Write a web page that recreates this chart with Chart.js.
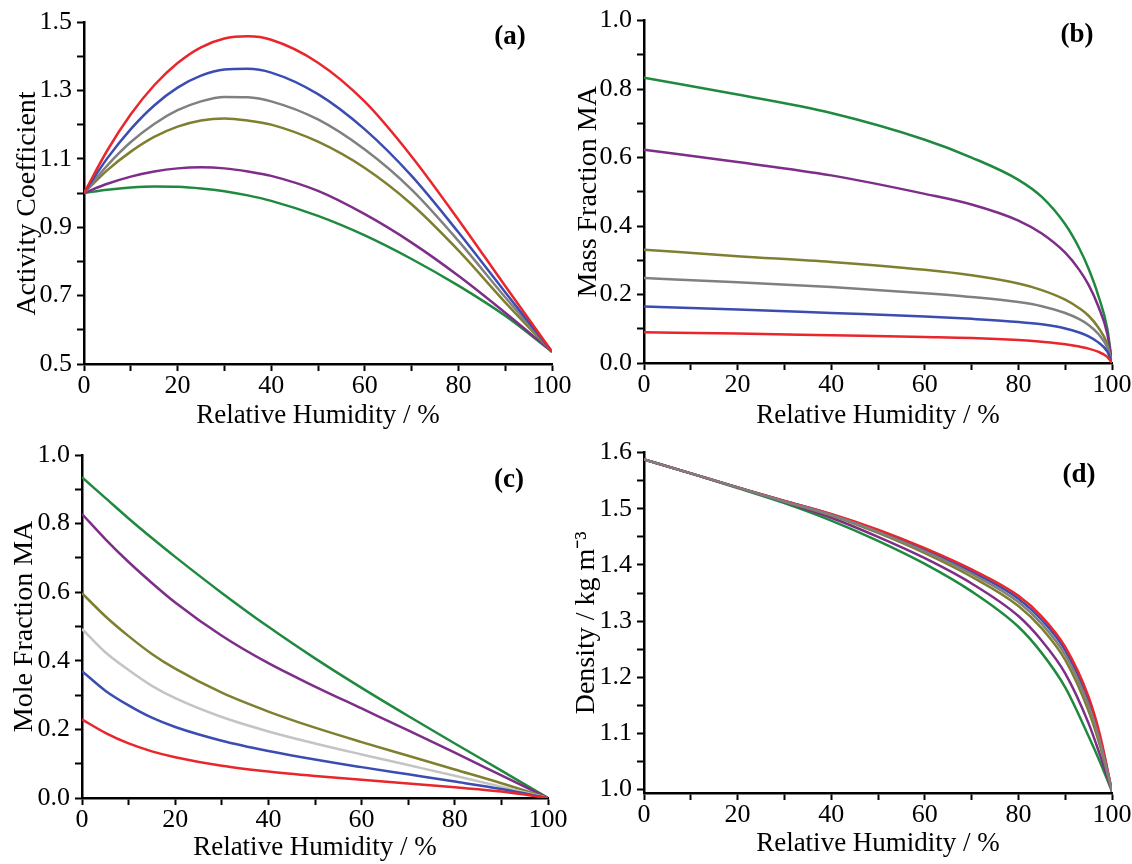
<!DOCTYPE html>
<html>
<head>
<meta charset="utf-8">
<script src="https://cdn.jsdelivr.net/npm/chart.js@4.4.1/dist/chart.umd.min.js"></script>
<style>
  html, body { margin: 0; padding: 0; background: #fff; overflow: hidden; }
  #wrap { position: relative; width: 1132px; height: 864px; overflow: hidden; background: #fff; }
  #wrap canvas { position: absolute; }
  .tag { position: absolute; font: bold 27px 'Liberation Serif', 'Times New Roman', serif; line-height: 27px; transform: translate(-50%, -50%); color: #000; }
</style>
</head>
<body>
<div id="wrap">
  <canvas id="panelA" width="600" height="432" style="left:0;top:0"></canvas>
  <canvas id="panelC" width="600" height="432" style="left:0;top:432px"></canvas>
  <canvas id="panelB" width="600" height="432" style="left:560px;top:0"></canvas>
  <canvas id="panelD" width="600" height="432" style="left:560px;top:432px"></canvas>
  <div class="tag" style="left:510px;top:35px">(a)</div>
  <div class="tag" style="left:1077px;top:33px">(b)</div>
  <div class="tag" style="left:509px;top:478px">(c)</div>
  <div class="tag" style="left:1079px;top:473px">(d)</div>
</div>
<script>
// --- shared x axis ---
const xTickVals = [0, 10, 20, 30, 40, 50, 60, 70, 80, 90, 100];
const xTickLabels = [0, 20, 40, 60, 80, 100];

// --- (a) activity coefficient ---
const actX = [0, 5, 10, 15, 20, 25, 30, 35, 40, 50, 60, 70, 80, 90, 100];
const actRed    = [1.0, 1.125, 1.23, 1.315, 1.38, 1.426, 1.452, 1.458, 1.448, 1.381, 1.267, 1.107, 0.922, 0.728, 0.536];
const actBlue   = [1.0, 1.102, 1.187, 1.256, 1.308, 1.343, 1.361, 1.363, 1.352, 1.289, 1.186, 1.05, 0.885, 0.71, 0.536];
const actGray   = [1.0, 1.081, 1.149, 1.202, 1.242, 1.268, 1.281, 1.28, 1.268, 1.215, 1.127, 1.01, 0.86, 0.695, 0.536];
const actOlive  = [1.0, 1.067, 1.121, 1.164, 1.194, 1.212, 1.218, 1.212, 1.2, 1.15, 1.073, 0.967, 0.832, 0.68, 0.536];
const actPurple = [1.0, 1.027, 1.048, 1.063, 1.072, 1.075, 1.072, 1.063, 1.05, 1.006, 0.938, 0.855, 0.758, 0.65, 0.536];
const actGreen  = [1.0, 1.0095, 1.016, 1.019, 1.018, 1.013, 1.005, 0.993, 0.977, 0.933, 0.876, 0.807, 0.729, 0.641, 0.536];
const actTicks  = [0.5, 0.6, 0.7, 0.8, 0.9, 1.0, 1.1, 1.2, 1.3, 1.4, 1.5];
const actLabels = [0.5, 0.7, 0.9, 1.1, 1.3, 1.5];

// --- (b) mass fraction ---
const massX = [0, 20, 40, 60, 70, 80, 85, 90, 93, 95, 97, 99, 100];
const massRed    = [0.09, 0.086, 0.081, 0.076, 0.073, 0.067, 0.062, 0.055, 0.048, 0.042, 0.033, 0.018, 0];
const massBlue   = [0.165, 0.156, 0.146, 0.136, 0.129, 0.12, 0.113, 0.101, 0.089, 0.078, 0.061, 0.033, 0];
const massGray   = [0.248, 0.236, 0.222, 0.204, 0.193, 0.178, 0.166, 0.146, 0.128, 0.111, 0.086, 0.045, 0];
const massOlive  = [0.331, 0.312, 0.295, 0.272, 0.256, 0.232, 0.213, 0.185, 0.16, 0.138, 0.105, 0.055, 0];
const massPurple = [0.623, 0.587, 0.548, 0.494, 0.463, 0.416, 0.378, 0.322, 0.272, 0.228, 0.168, 0.085, 0];
const massGreen  = [0.833, 0.784, 0.73, 0.652, 0.6, 0.535, 0.485, 0.405, 0.335, 0.275, 0.2, 0.1, 0];
const fracTicks  = [0, 0.1, 0.2, 0.3, 0.4, 0.5, 0.6, 0.7, 0.8, 0.9, 1.0];
const fracLabels = [0, 0.2, 0.4, 0.6, 0.8, 1.0];

// --- (c) mole fraction ---
const moleX = [0, 5, 10, 15, 20, 30, 40, 50, 60, 70, 80, 90, 100];
const moleRed    = [0.229, 0.19, 0.159, 0.136, 0.119, 0.094, 0.077, 0.064, 0.053, 0.042, 0.031, 0.019, 0];
const moleBlue   = [0.37, 0.313, 0.27, 0.234, 0.207, 0.167, 0.137, 0.112, 0.09, 0.069, 0.048, 0.026, 0];
const moleGray   = [0.493, 0.425, 0.373, 0.327, 0.291, 0.236, 0.194, 0.159, 0.127, 0.096, 0.065, 0.033, 0];
const moleOlive  = [0.597, 0.53, 0.472, 0.42, 0.377, 0.307, 0.252, 0.205, 0.163, 0.123, 0.083, 0.043, 0];
const molePurple = [0.828, 0.755, 0.688, 0.627, 0.57, 0.473, 0.393, 0.325, 0.261, 0.197, 0.132, 0.066, 0];
const moleGreen  = [0.935, 0.875, 0.815, 0.758, 0.703, 0.598, 0.499, 0.407, 0.321, 0.239, 0.159, 0.08, 0];

// --- (d) density ---
const densX = [0, 10, 20, 30, 40, 50, 60, 70, 80, 85, 90, 95, 97.5, 100];
const densRed    = [1.588, 1.563, 1.538, 1.514, 1.491, 1.463, 1.43, 1.392, 1.345, 1.308, 1.254, 1.165, 1.095, 0.997];
const densBlue   = [1.588, 1.563, 1.538, 1.514, 1.49, 1.461, 1.427, 1.388, 1.34, 1.302, 1.248, 1.158, 1.089, 0.997];
const densGray   = [1.588, 1.563, 1.538, 1.513, 1.489, 1.459, 1.424, 1.384, 1.334, 1.295, 1.24, 1.15, 1.083, 0.997];
const densOlive  = [1.588, 1.563, 1.538, 1.513, 1.488, 1.457, 1.421, 1.379, 1.327, 1.287, 1.231, 1.14, 1.076, 0.997];
const densPurple = [1.588, 1.563, 1.538, 1.512, 1.484, 1.45, 1.412, 1.367, 1.309, 1.265, 1.207, 1.118, 1.06, 0.997];
const densGreen  = [1.588, 1.563, 1.537, 1.51, 1.479, 1.443, 1.402, 1.353, 1.29, 1.243, 1.182, 1.095, 1.048, 0.997];
const densTicks  = [1.0, 1.05, 1.1, 1.15, 1.2, 1.25, 1.3, 1.35, 1.4, 1.45, 1.5, 1.55, 1.6];
const densLabels = [1.0, 1.1, 1.2, 1.3, 1.4, 1.5, 1.6];

// colours
const RED = '#e8262b', BLUE = '#3b4db1', GRAY = '#808080', LIGHTGRAY = '#c4c4c4',
      OLIVE = '#7f7f30', PURPLE = '#7e2d89', GREEN = '#1f8a3f';

Chart.defaults.font.family = "'Liberation Serif', 'Times New Roman', serif";
Chart.defaults.color = '#000';

function pts(xs, ys) {
    return xs.map((x, i) => ({ x: x, y: ys[i] }));
}

function panel(id, p) {
    return new Chart(document.getElementById(id), {
        type: 'line',
        data: {
            datasets: p.series.map(s => ({
                data: pts(p.x, s.y),
                borderColor: s.color,
                order: s.order || 0
            }))
        },
        options: {
            animation: false,
            responsive: false,
            events: [],
            layout: { padding: { top: p.top, right: 600 - p.right, left: 0, bottom: 0 } },
            elements: {
                point: { radius: 0 },
                line: { borderWidth: 2.5, cubicInterpolationMode: 'monotone', fill: false }
            },
            plugins: { legend: { display: false }, tooltip: { enabled: false } },
            scales: {
                x: {
                    type: 'linear', min: 0, max: 100,
                    afterBuildTicks: s => { s.ticks = xTickVals.map(v => ({ value: v })); },
                    afterFit: s => { s.height = 432 - p.bottom; },
                    ticks: {
                        autoSkip: false, maxRotation: 0, padding: 0, font: { size: 26 },
                        callback: v => xTickLabels.includes(v) ? String(v) : ''
                    },
                    grid: { drawOnChartArea: false, drawTicks: true, tickLength: 7, tickWidth: 2, tickColor: '#000' },
                    border: { display: true, color: '#000', width: 2.5 },
                    title: { display: true, text: 'Relative Humidity / %', font: { size: 27 }, padding: { top: 0, bottom: p.xPad } }
                },
                y: {
                    type: 'linear', min: p.yMin, max: p.yMax,
                    afterBuildTicks: s => { s.ticks = p.yTicks.map(v => ({ value: v })); },
                    afterFit: s => { s.width = p.left; },
                    ticks: {
                        autoSkip: false, padding: 5, font: { size: 26 },
                        callback: v => p.yLabels.includes(v) ? v.toFixed(1) : ''
                    },
                    grid: { drawOnChartArea: false, drawTicks: true, tickLength: 7, tickWidth: 2, tickColor: '#000' },
                    border: { display: true, color: '#000', width: 2.5 },
                    title: { display: true, text: p.yTitle, font: { size: 28 }, padding: { top: p.yPad, bottom: 0 } }
                }
            }
        }
    });
}

panel('panelA', {
    x: actX, left: 84, right: 552, top: 22, bottom: 364, xPad: 0, yPad: 11,
    yMin: 0.5, yMax: 1.5, yTicks: actTicks, yLabels: actLabels,
    // trailing spaces nudge the rotated title down a bit, like the original
    yTitle: 'Activity Coefficient   ',
    series: [
        { y: actRed, color: RED }, { y: actBlue, color: BLUE }, { y: actGray, color: GRAY },
        { y: actOlive, color: OLIVE }, { y: actPurple, color: PURPLE }, { y: actGreen, color: GREEN }
    ]
});

panel('panelB', {
    x: massX, left: 84, right: 552, top: 20, bottom: 363, xPad: 0, yPad: 12,
    yMin: 0, yMax: 1.0, yTicks: fracTicks, yLabels: fracLabels,
    yTitle: 'Mass Fraction MA',
    series: [
        { y: massRed, color: RED }, { y: massBlue, color: BLUE }, { y: massGray, color: GRAY },
        { y: massOlive, color: OLIVE }, { y: massPurple, color: PURPLE }, { y: massGreen, color: GREEN }
    ]
});

panel('panelC', {
    x: moleX, left: 82, right: 548, top: 23, bottom: 366, xPad: 0, yPad: 8,
    yMin: 0, yMax: 1.0, yTicks: fracTicks, yLabels: fracLabels,
    yTitle: 'Mole Fraction MA',
    series: [
        { y: moleRed, color: RED }, { y: moleBlue, color: BLUE }, { y: moleGray, color: LIGHTGRAY },
        { y: moleOlive, color: OLIVE }, { y: molePurple, color: PURPLE }, { y: moleGreen, color: GREEN }
    ]
});

panel('panelD', {
    x: densX, left: 84, right: 552, top: 18, bottom: 361, xPad: 4, yPad: 10,
    yMin: 0.994, yMax: 1.6, yTicks: densTicks, yLabels: densLabels,
    yTitle: 'Density / kg m\u207B\u00B3',
    series: [
        { y: densRed, color: RED }, { y: densBlue, color: BLUE }, { y: densGray, color: GRAY, order: -1 },
        { y: densOlive, color: OLIVE }, { y: densPurple, color: PURPLE }, { y: densGreen, color: GREEN }
    ]
});
</script>
</body>
</html>
